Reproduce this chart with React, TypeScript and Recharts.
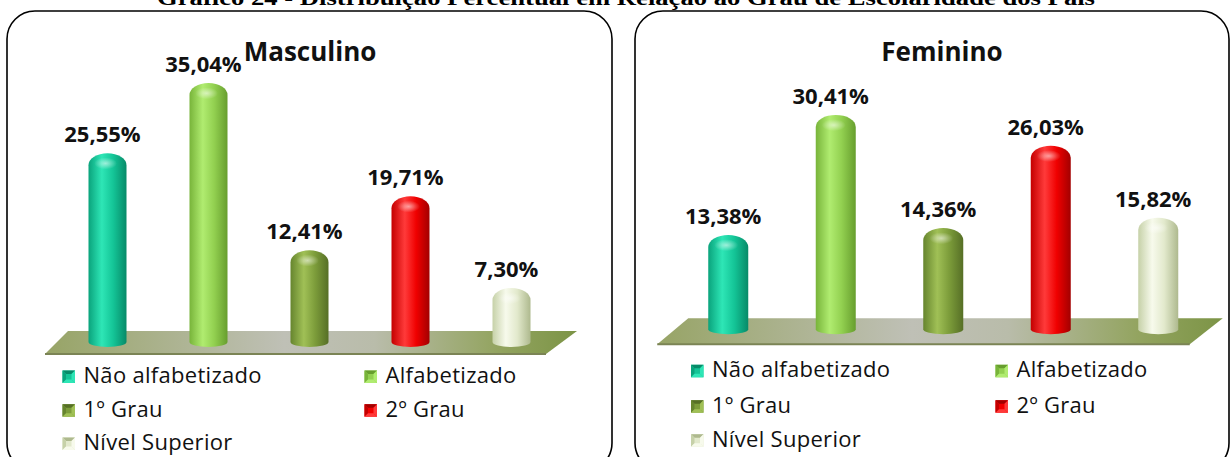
import React from 'react';
import { BarChart, Bar, XAxis, YAxis, LabelList, Customized } from 'recharts';

const categorias = ['Não alfabetizado', 'Alfabetizado', '1º Grau', '2º Grau', 'Nível Superior'];
const masculino = [25.55, 35.04, 12.41, 19.71, 7.3];
const feminino = [13.38, 30.41, 14.36, 26.03, 15.82];

// tons de cada cilindro: [borda esq, brilho, base, borda dir]
const cores = [
  ['#0aa37c', '#2ee6b6', '#14c597', '#078a68'],
  ['#78b43a', '#b0ec70', '#92d050', '#679e2e'],
  ['#66852e', '#a0c056', '#7c9c3a', '#566f26'],
  ['#c40000', '#ff3a3a', '#f00000', '#a20000'],
  ['#c6d1a8', '#f7faec', '#e2e9cc', '#aeb98e'],
];

const fmt = (v: number) => v.toFixed(2).replace('.', ',') + '%';

const Cilindro = (props: any) => {
  const { x, y, width: w, height: h, index, pref } = props;
  const c = cores[index];
  const ryTop = 12;
  const ryBot = 5;
  const base = y + h;
  const id = `${pref}-g${index}`;
  const d = `M${x},${y + ryTop} A${w / 2},${ryTop} 0 0 1 ${x + w},${y + ryTop} L${x + w},${base} A${w / 2},${ryBot} 0 0 1 ${x},${base} Z`;
  return (
    <g>
      <defs>
        <linearGradient id={id} x1="0" y1="0" x2="1" y2="0">
          <stop offset="0%" stopColor={c[0]} />
          <stop offset="35%" stopColor={c[1]} />
          <stop offset="65%" stopColor={c[2]} />
          <stop offset="100%" stopColor={c[3]} />
        </linearGradient>
        <radialGradient id={id + 'h'} cx="50%" cy="50%" r="50%">
          <stop offset="0%" stopColor="#ffffff" stopOpacity={0.55} />
          <stop offset="100%" stopColor="#ffffff" stopOpacity={0} />
        </radialGradient>
      </defs>
      <path d={d} fill={`url(#${id})`} />
      <ellipse cx={x + w * 0.45} cy={y + ryTop * 0.85} rx={w * 0.3} ry={6} fill={`url(#${id + 'h'})`} />
    </g>
  );
};

const Piso = ({ pl, pr, zy, f, pref }: any) => {
  const pts = [
    [pl + f.tl, zy + f.top],
    [pr + f.tr, zy + f.top],
    [pr + f.br, zy + f.bottom],
    [pl + f.bl, zy + f.bottom],
  ];
  return (
    <g>
      <defs>
        <linearGradient id={pref + 'piso'} x1="0" y1="0" x2="1" y2="0">
          <stop offset="0%" stopColor="#97a466" />
          <stop offset="45%" stopColor="#bfc0b6" />
          <stop offset="62%" stopColor="#b9bcaa" />
          <stop offset="85%" stopColor="#93a460" />
          <stop offset="100%" stopColor="#7c9446" />
        </linearGradient>
      </defs>
      <polygon points={pts.map((p) => p.join(',')).join(' ')} fill={`url(#${pref}piso)`} />
      <line x1={pts[3][0]} y1={pts[3][1]} x2={pts[2][0]} y2={pts[2][1]} stroke="#7b8455" strokeWidth={2} />
    </g>
  );
};

const paineis = [
  {
    pref: 'm', valores: masculino, left: 0, width: 612, height: 360, barSize: 38,
    margin: { top: 46.4, right: 50.5, bottom: 18, left: 56.5 },
    floor: { tl: 11.5, tr: 15.5, br: -15.5, bl: -11.5, top: -11, bottom: 12 },
  },
  {
    pref: 'f', valores: feminino, left: 620, width: 611, height: 360, barSize: 40,
    margin: { top: 47.3, right: 19.25, bottom: 30.7, left: 54.25 },
    floor: { tl: 14, tr: 11, br: -22, bl: -17, top: -11, bottom: 15 },
  },
];

const Grafico = ({ p }: any) => {
  const data = categorias.map((c, i) => ({ nome: c, valor: p.valores[i] }));
  const pl = p.margin.left;
  const pr = p.width - p.margin.right;
  const zy = p.height - p.margin.bottom;
  const rotulo = (lp: any) => {
    const { x, y, width, value } = lp;
    return (
      <text x={x + width / 2 - 5} y={y - 11} textAnchor="middle" fontFamily="'Open Sans'" fontWeight="bold" fontSize={22} fill="#111">
        {fmt(value)}
      </text>
    );
  };
  return (
    <div style={{ position: 'absolute', left: p.left, top: 0 }}>
      <BarChart width={p.width} height={p.height} data={data} margin={p.margin} barSize={p.barSize}>
        <XAxis dataKey="nome" hide />
        <YAxis domain={[0, 40]} hide />
        <Customized component={<Piso pl={pl} pr={pr} zy={zy} f={p.floor} pref={p.pref} />} />
        <Bar dataKey="valor" isAnimationActive={false} shape={(sp: any) => <Cilindro {...sp} pref={p.pref} />}>
          <LabelList dataKey="valor" content={rotulo} />
        </Bar>
      </BarChart>
    </div>
  );
};

const Marcador = ({ x, y, c }: any) => {
  const s = 12.5;
  const k = 3.5;
  return (
    <g>
      <rect x={x} y={y} width={s} height={s} fill={c[2]} />
      <polygon points={`${x},${y} ${x + s},${y} ${x + s - k},${y + k} ${x + k},${y + k}`} fill={c[3]} />
      <polygon points={`${x},${y} ${x + k},${y + k} ${x + k},${y + s - k} ${x},${y + s}`} fill={c[0]} />
      <polygon points={`${x + s},${y} ${x + s},${y + s} ${x + s - k},${y + s - k} ${x + s - k},${y + k}`} fill={c[1]} />
      <polygon points={`${x},${y + s} ${x + s},${y + s} ${x + s - k},${y + s - k} ${x + k},${y + s - k}`} fill={c[1]} />
    </g>
  );
};

const legendas = [
  { cols: [62.5, 364.5], rows: [383, 416.7, 450] },
  { cols: [691, 995.5], rows: [377.3, 412.7, 446.7] },
];

export default function App() {
  return (
    <div style={{ position: 'absolute', left: 0, top: 0, width: 1231, height: 457, overflow: 'hidden', background: '#fff' }}>
      <svg width={1231} height={457} style={{ position: 'absolute', left: 0, top: 0 }}>
        <text x={626} y={5} textAnchor="middle" fontFamily="'Liberation Serif'" fontWeight="bold" fontSize={20} textLength={938} lengthAdjust="spacingAndGlyphs" fill="#000">
          Gráfico 24 - Distribuição Percentual em Relação ao Grau de Escolaridade dos Pais
        </text>
        <rect x={7} y={11} width={605} height={460} rx={28} ry={28} fill="none" stroke="#000" strokeWidth={1.6} />
        <rect x={635} y={11} width={594} height={460} rx={28} ry={28} fill="none" stroke="#000" strokeWidth={1.6} />
      </svg>
      {paineis.map((p) => (
        <Grafico key={p.pref} p={p} />
      ))}
      <svg width={1231} height={457} style={{ position: 'absolute', left: 0, top: 0, pointerEvents: 'none' }}>
        <text x={310} y={61} textAnchor="middle" fontFamily="'Open Sans'" fontWeight="bold" fontSize={26} fill="#111">Masculino</text>
        <text x={942} y={61} textAnchor="middle" fontFamily="'Open Sans'" fontWeight="bold" fontSize={26} fill="#111">Feminino</text>
        {legendas.map((lg, li) => (
          <g key={li}>
            {categorias.map((c, i) => {
              const mx = lg.cols[i % 2];
              const by = lg.rows[Math.floor(i / 2)];
              return (
                <g key={c}>
                  <Marcador x={mx} y={by - 12.5} c={cores[i]} />
                  <text x={mx + 21} y={by} fontFamily="'Open Sans'" fontSize={22} letterSpacing={0.3} fill="#111">{c}</text>
                </g>
              );
            })}
          </g>
        ))}
      </svg>
    </div>
  );
}
